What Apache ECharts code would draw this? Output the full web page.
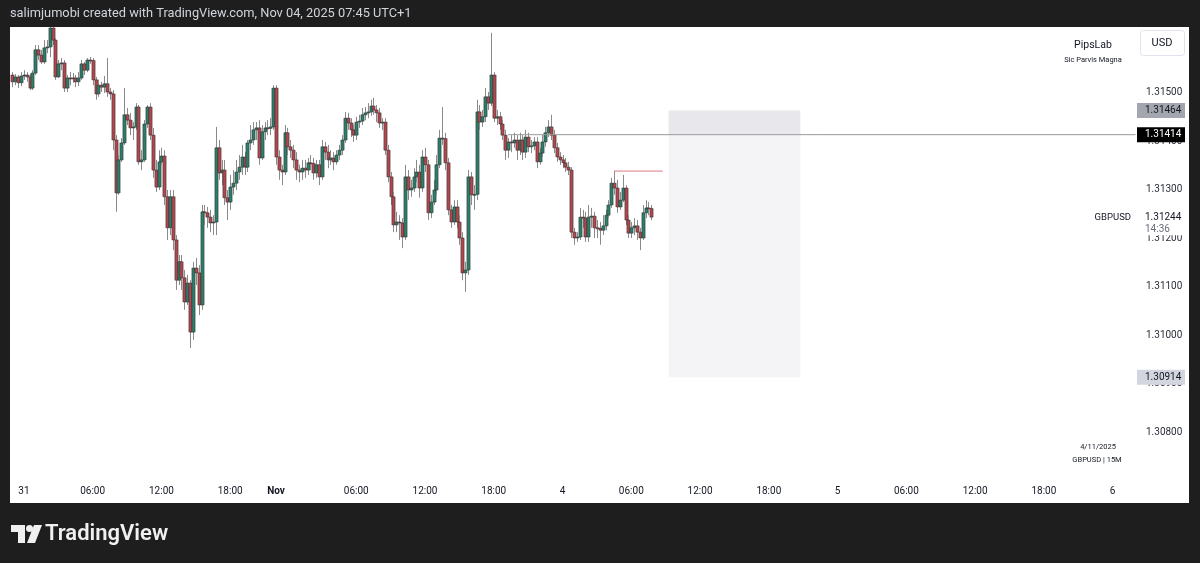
<!DOCTYPE html>
<html>
<head>
<meta charset="utf-8">
<script src="https://cdn.jsdelivr.net/npm/echarts@6/dist/echarts.min.js"></script>
<style>
  html, body { margin: 0; padding: 0; background: #1e1e1e; }
  #chart { width: 1200px; height: 563px; }
</style>
</head>
<body>
<div id="chart"></div>
<script>
// GBPUSD 15m candles, [open, close, low, high], first bar = 30 Oct 23:00 (UTC+1)
const ohlc = [
  [1.31537,1.31523,1.31512,1.31543],[1.31523,1.31533,1.31516,1.31539],[1.31533,1.31521,1.31510,1.31537],[1.31521,1.31535,1.31514,1.31543],
  [1.31535,1.31537,1.31527,1.31547],[1.31537,1.31533,1.31523,1.31543],[1.31533,1.31510,1.31506,1.31539],[1.31510,1.31541,1.31506,1.31547],
  [1.31541,1.31589,1.31537,1.31599],[1.31589,1.31578,1.31568,1.31599],[1.31578,1.31564,1.31560,1.31589],[1.31564,1.31593,1.31560,1.31609],
  [1.31593,1.31595,1.31582,1.31609],[1.31595,1.31634,1.31574,1.31636],[1.31634,1.31609,1.31599,1.31636],[1.31609,1.31533,1.31527,1.31613],
  [1.31533,1.31560,1.31531,1.31568],[1.31560,1.31562,1.31547,1.31572],[1.31562,1.31510,1.31502,1.31568],[1.31510,1.31531,1.31502,1.31537],
  [1.31531,1.31529,1.31516,1.31543],[1.31529,1.31531,1.31521,1.31541],[1.31531,1.31523,1.31512,1.31537],[1.31523,1.31531,1.31514,1.31543],
  [1.31531,1.31560,1.31527,1.31568],[1.31560,1.31547,1.31537,1.31564],[1.31547,1.31568,1.31543,1.31572],[1.31568,1.31567,1.31560,1.31574],
  [1.31567,1.31527,1.31516,1.31572],[1.31527,1.31498,1.31486,1.31533],[1.31498,1.31516,1.31492,1.31527],[1.31516,1.31512,1.31502,1.31523],
  [1.31512,1.31519,1.31500,1.31535],[1.31519,1.31502,1.31492,1.31572],[1.31502,1.31498,1.31486,1.31510],[1.31498,1.31403,1.31382,1.31506],
  [1.31403,1.31294,1.31255,1.31413],[1.31294,1.31362,1.31290,1.31372],[1.31362,1.31397,1.31358,1.31407],[1.31397,1.31455,1.31393,1.31510],
  [1.31455,1.31444,1.31434,1.31469],[1.31444,1.31428,1.31413,1.31459],[1.31428,1.31430,1.31403,1.31440],[1.31430,1.31471,1.31424,1.31479],
  [1.31471,1.31358,1.31352,1.31475],[1.31358,1.31362,1.31341,1.31382],[1.31362,1.31436,1.31358,1.31444],[1.31436,1.31471,1.31428,1.31475],
  [1.31471,1.31413,1.31403,1.31479],[1.31413,1.31341,1.31325,1.31428],[1.31341,1.31306,1.31296,1.31362],[1.31306,1.31358,1.31300,1.31382],
  [1.31358,1.31370,1.31352,1.31387],[1.31370,1.31286,1.31269,1.31382],[1.31286,1.31222,1.31197,1.31300],[1.31222,1.31286,1.31207,1.31300],
  [1.31286,1.31197,1.31176,1.31300],[1.31197,1.31114,1.31094,1.31207],[1.31114,1.31152,1.31104,1.31166],[1.31152,1.31119,1.31094,1.31166],
  [1.31119,1.31069,1.31053,1.31135],[1.31069,1.31108,1.31063,1.31125],[1.31108,1.31007,1.30974,1.31114],[1.31007,1.31139,1.30991,1.31152],
  [1.31139,1.31129,1.31104,1.31160],[1.31129,1.31063,1.31042,1.31145],[1.31063,1.31255,1.31053,1.31269],[1.31255,1.31253,1.31228,1.31269],
  [1.31253,1.31244,1.31222,1.31265],[1.31244,1.31232,1.31213,1.31259],[1.31232,1.31234,1.31207,1.31248],[1.31234,1.31387,1.31207,1.31430],
  [1.31387,1.31335,1.31321,1.31403],[1.31335,1.31341,1.31310,1.31362],[1.31341,1.31284,1.31269,1.31362],[1.31284,1.31275,1.31238,1.31300],
  [1.31275,1.31306,1.31259,1.31331],[1.31306,1.31314,1.31290,1.31341],[1.31314,1.31337,1.31300,1.31362],[1.31337,1.31347,1.31321,1.31372],
  [1.31347,1.31368,1.31331,1.31393],[1.31368,1.31347,1.31331,1.31378],[1.31347,1.31397,1.31337,1.31403],[1.31397,1.31403,1.31382,1.31434],
  [1.31403,1.31424,1.31393,1.31440],[1.31424,1.31428,1.31403,1.31440],[1.31428,1.31366,1.31352,1.31444],[1.31366,1.31420,1.31362,1.31434],
  [1.31420,1.31428,1.31403,1.31440],[1.31428,1.31427,1.31413,1.31444],[1.31427,1.31430,1.31413,1.31448],[1.31430,1.31510,1.31424,1.31516],
  [1.31510,1.31368,1.31352,1.31516],[1.31368,1.31341,1.31321,1.31382],[1.31341,1.31337,1.31310,1.31352],[1.31337,1.31418,1.31331,1.31434],
  [1.31418,1.31389,1.31372,1.31428],[1.31389,1.31382,1.31366,1.31403],[1.31382,1.31362,1.31345,1.31393],[1.31362,1.31341,1.31321,1.31378],
  [1.31341,1.31337,1.31316,1.31352],[1.31337,1.31345,1.31321,1.31362],[1.31345,1.31341,1.31325,1.31362],[1.31341,1.31356,1.31331,1.31366],
  [1.31356,1.31355,1.31341,1.31372],[1.31355,1.31335,1.31321,1.31366],[1.31335,1.31352,1.31325,1.31362],[1.31352,1.31327,1.31310,1.31362],
  [1.31327,1.31389,1.31321,1.31403],[1.31389,1.31378,1.31362,1.31399],[1.31378,1.31362,1.31345,1.31393],[1.31362,1.31366,1.31352,1.31382],
  [1.31366,1.31358,1.31341,1.31378],[1.31358,1.31372,1.31352,1.31382],[1.31372,1.31382,1.31362,1.31393],[1.31382,1.31403,1.31372,1.31413],
  [1.31403,1.31448,1.31397,1.31461],[1.31448,1.31438,1.31424,1.31459],[1.31438,1.31424,1.31409,1.31448],[1.31424,1.31413,1.31399,1.31434],
  [1.31413,1.31440,1.31403,1.31451],[1.31440,1.31442,1.31428,1.31455],[1.31442,1.31455,1.31434,1.31469],[1.31455,1.31459,1.31444,1.31471],
  [1.31459,1.31461,1.31448,1.31479],[1.31461,1.31473,1.31453,1.31486],[1.31473,1.31465,1.31455,1.31490],[1.31465,1.31459,1.31440,1.31475],
  [1.31459,1.31438,1.31428,1.31469],[1.31438,1.31440,1.31424,1.31448],[1.31440,1.31382,1.31372,1.31448],[1.31382,1.31327,1.31316,1.31393],
  [1.31327,1.31286,1.31269,1.31337],[1.31286,1.31228,1.31213,1.31296],[1.31228,1.31234,1.31213,1.31255],[1.31234,1.31232,1.31197,1.31248],
  [1.31232,1.31203,1.31180,1.31242],[1.31203,1.31327,1.31197,1.31352],[1.31327,1.31300,1.31279,1.31341],[1.31300,1.31304,1.31286,1.31321],
  [1.31304,1.31327,1.31296,1.31345],[1.31327,1.31337,1.31316,1.31362],[1.31337,1.31304,1.31284,1.31352],[1.31304,1.31368,1.31296,1.31382],
  [1.31368,1.31352,1.31337,1.31387],[1.31352,1.31253,1.31238,1.31362],[1.31253,1.31275,1.31242,1.31290],[1.31275,1.31300,1.31269,1.31321],
  [1.31300,1.31352,1.31290,1.31372],[1.31352,1.31407,1.31345,1.31424],[1.31407,1.31406,1.31393,1.31471],[1.31406,1.31356,1.31341,1.31418],
  [1.31356,1.31259,1.31248,1.31366],[1.31259,1.31234,1.31222,1.31269],[1.31234,1.31265,1.31228,1.31279],[1.31265,1.31234,1.31222,1.31279],
  [1.31234,1.31201,1.31187,1.31248],[1.31201,1.31129,1.31114,1.31213],[1.31129,1.31135,1.31090,1.31152],[1.31135,1.31327,1.31125,1.31341],
  [1.31327,1.31290,1.31269,1.31337],[1.31290,1.31291,1.31259,1.31310],[1.31291,1.31461,1.31279,1.31486],[1.31461,1.31440,1.31424,1.31475],
  [1.31440,1.31451,1.31430,1.31465],[1.31451,1.31492,1.31440,1.31510],[1.31492,1.31479,1.31465,1.31502],[1.31479,1.31537,1.31473,1.31624],
  [1.31537,1.31448,1.31440,1.31543],[1.31448,1.31451,1.31434,1.31465],[1.31451,1.31436,1.31424,1.31461],[1.31436,1.31413,1.31403,1.31444],
  [1.31413,1.31382,1.31362,1.31424],[1.31382,1.31399,1.31366,1.31407],[1.31399,1.31397,1.31378,1.31413],[1.31397,1.31403,1.31387,1.31418],
  [1.31403,1.31382,1.31362,1.31413],[1.31382,1.31403,1.31372,1.31418],[1.31403,1.31378,1.31362,1.31413],[1.31378,1.31409,1.31366,1.31424],
  [1.31409,1.31389,1.31378,1.31418],[1.31389,1.31391,1.31376,1.31403],[1.31391,1.31399,1.31382,1.31409],[1.31399,1.31358,1.31345,1.31409],
  [1.31358,1.31376,1.31352,1.31387],[1.31376,1.31399,1.31368,1.31413],[1.31399,1.31418,1.31389,1.31430],[1.31418,1.31430,1.31409,1.31444],
  [1.31430,1.31413,1.31403,1.31455],[1.31413,1.31387,1.31376,1.31424],[1.31387,1.31368,1.31358,1.31397],[1.31368,1.31362,1.31352,1.31378],
  [1.31362,1.31356,1.31345,1.31372],[1.31356,1.31347,1.31337,1.31366],[1.31347,1.31341,1.31331,1.31358],[1.31341,1.31213,1.31201,1.31347],
  [1.31213,1.31201,1.31187,1.31222],[1.31201,1.31203,1.31193,1.31213],[1.31203,1.31244,1.31197,1.31263],[1.31244,1.31242,1.31222,1.31259],
  [1.31242,1.31203,1.31193,1.31255],[1.31203,1.31244,1.31193,1.31269],[1.31244,1.31246,1.31222,1.31263],[1.31246,1.31222,1.31201,1.31255],
  [1.31222,1.31221,1.31201,1.31238],[1.31221,1.31217,1.31187,1.31234],[1.31217,1.31226,1.31207,1.31248],[1.31226,1.31248,1.31217,1.31259],
  [1.31248,1.31269,1.31242,1.31279],[1.31269,1.31314,1.31263,1.31325],[1.31314,1.31304,1.31290,1.31339],[1.31304,1.31265,1.31253,1.31321],
  [1.31265,1.31279,1.31259,1.31296],[1.31279,1.31304,1.31275,1.31331],[1.31304,1.31238,1.31228,1.31310],[1.31238,1.31211,1.31201,1.31248],
  [1.31211,1.31222,1.31201,1.31234],[1.31222,1.31226,1.31207,1.31242],[1.31226,1.31213,1.31197,1.31238],[1.31213,1.31201,1.31176,1.31222],
  [1.31201,1.31253,1.31197,1.31269],[1.31253,1.31263,1.31242,1.31279],[1.31263,1.31262,1.31248,1.31275],[1.31262,1.31244,1.31238,1.31269]
];

// time axis labels (category -> text)
const tickLabels = [
  ['2025-10-31 00:00', '31'], ['2025-10-31 06:00', '06:00'], ['2025-10-31 12:00', '12:00'], ['2025-10-31 18:00', '18:00'],
  ['2025-11-02 23:00', 'Nov'], ['2025-11-03 06:00', '06:00'], ['2025-11-03 12:00', '12:00'], ['2025-11-03 18:00', '18:00'],
  ['2025-11-04 00:00', '4'], ['2025-11-04 06:00', '06:00'], ['2025-11-04 12:00', '12:00'], ['2025-11-04 18:00', '18:00'],
  ['2025-11-05 00:00', '5'], ['2025-11-05 06:00', '06:00'], ['2025-11-05 12:00', '12:00'], ['2025-11-05 18:00', '18:00'],
  ['2025-11-06 00:00', '6']
];

// position tool + levels
const entryPrice = 1.31414;
const stopPrice = 1.31464;
const targetPrice = 1.30914;
const lastPrice = 1.31244;
const countdown = '14:36';
const boxFrom = '2025-11-04 09:15';
const boxTo = '2025-11-04 20:45';
const entryLineFrom = '2025-11-03 19:15';
const highLineFrom = '2025-11-04 04:30';
const highLineTo = '2025-11-04 08:45';
const highLinePrice = 1.31339;

// 15 minute slots, two sessions either side of the weekend
const sessions = [['2025-10-30T23:00:00Z', 92], ['2025-11-02T23:00:00Z', 301]];
const pad = n => String(n).padStart(2, '0');
const categories = [];
sessions.forEach(([start, n]) => {
  let t = Date.parse(start);
  for (let k = 0; k < n; k++) {
    const d = new Date(t);
    categories.push(d.getUTCFullYear() + '-' + pad(d.getUTCMonth() + 1) + '-' + pad(d.getUTCDate()) + ' ' + pad(d.getUTCHours()) + ':' + pad(d.getUTCMinutes()));
    t += 15 * 60000;
  }
});
const labelMap = {};
tickLabels.forEach(([k, v]) => { labelMap[k] = v; });

const UP = '#2e7d6a', DOWN = '#b0474f';
const FONT = 'Roboto, "Noto Sans", sans-serif';

function renderCandle(params, api) {
  const i = api.value(0);
  const o = api.coord([i, api.value(1)]);
  const c = api.coord([i, api.value(2)]);
  const l = api.coord([i, api.value(3)]);
  const h = api.coord([i, api.value(4)]);
  const x = Math.round(o[0]) + 0.5;
  const up = api.value(2) >= api.value(1);
  const top = Math.min(o[1], c[1]);
  const bh = Math.max(1, Math.abs(o[1] - c[1]));
  return {
    type: 'group',
    children: [
      { type: 'line', shape: { x1: x, y1: h[1], x2: x, y2: l[1] }, style: { stroke: '#8a8a8a', lineWidth: 1 } },
      { type: 'rect', shape: { x: x - 1.6, y: top, width: 3.2, height: bh }, style: { fill: up ? UP : DOWN, stroke: '#2b2b2b', lineWidth: 0.5 } }
    ]
  };
}

const chart = echarts.init(document.getElementById('chart'));
const lastCat = categories[categories.length - 1];

// a flat level drawn as a two point line series
function levelLine(from, to, price, color, z) {
  return {
    type: 'line',
    data: [[from, price], [to, price]],
    showSymbol: false,
    symbol: 'none',
    silent: true,
    z: z,
    lineStyle: { color: color, width: 1 },
    itemStyle: { color: color }
  };
}

chart.setOption({
  backgroundColor: '#1e1e1e',
  animation: false,
  grid: { left: 11, right: 63, top: 27, bottom: 82 },
  xAxis: {
    type: 'category',
    data: categories,
    boundaryGap: true,
    axisLine: { show: false },
    axisTick: { show: false },
    splitLine: { show: false },
    axisLabel: {
      interval: (idx, val) => labelMap[val] !== undefined,
      formatter: val => val === '2025-11-02 23:00' ? '{b|Nov}' : (labelMap[val] || ''),
      color: '#131722',
      fontSize: 10,
      fontFamily: FONT,
      margin: 5,
      rich: { b: { fontWeight: 'bold', fontSize: 10, color: '#131722', fontFamily: FONT } }
    }
  },
  yAxis: {
    type: 'value',
    position: 'right',
    min: 1.307,
    max: 1.31636,
    interval: 0.001,
    axisLine: { show: false },
    axisTick: { show: false },
    splitLine: { show: false },
    axisLabel: {
      showMinLabel: false,
      showMaxLabel: false,
      margin: 9,
      color: '#2a2e39',
      fontSize: 10,
      fontFamily: FONT,
      formatter: v => (v > 1.3075 && v < 1.3155) ? v.toFixed(5) : ''
    }
  },
  series: [
    {
      type: 'custom',
      renderItem: renderCandle,
      encode: { x: 0, y: [1, 2, 3, 4] },
      data: ohlc.map((r, i) => [i, r[0], r[1], r[2], r[3]]),
      z: 5,
      markArea: {
        silent: true,
        data: [
          [{ xAxis: boxFrom, yAxis: entryPrice, itemStyle: { color: '#e8e8ec' } }, { xAxis: boxTo, yAxis: stopPrice }],
          [{ xAxis: boxFrom, yAxis: targetPrice, itemStyle: { color: '#f4f4f6' } }, { xAxis: boxTo, yAxis: entryPrice }]
        ]
      }
    },
    levelLine(entryLineFrom, lastCat, entryPrice, '#9a9a9a', 6),
    levelLine(highLineFrom, highLineTo, highLinePrice, '#dd7a85', 6)
  ]
});

const yPx = v => chart.convertToPixel({ yAxisIndex: 0 }, v);
const tags = [
  { v: stopPrice, bg: '#a3a6ae', fg: '#131722' },
  { v: entryPrice, bg: '#000000', fg: '#ffffff' },
  { v: targetPrice, bg: '#d3d6de', fg: '#131722' }
];
const graphics = [
  { type: 'rect', z: -10, shape: { x: 10, y: 27, width: 1179, height: 476 }, style: { fill: '#ffffff' } },
  { type: 'text', z: 10, x: 10, y: 14, style: { text: 'salimjumobi created with TradingView.com, Nov 04, 2025 07:45 UTC+1', fill: '#d1d4dc', font: '12.8px ' + FONT, textVerticalAlign: 'middle' } },
  // watermark top right
  { type: 'text', z: 10, x: 1093, y: 45, style: { text: 'PipsLab', fill: '#131722', font: '10.5px ' + FONT, textAlign: 'center', textVerticalAlign: 'middle' } },
  { type: 'text', z: 10, x: 1093, y: 60, style: { text: 'Sic Parvis Magna', fill: '#131722', font: '7.5px ' + FONT, textAlign: 'center', textVerticalAlign: 'middle' } },
  { type: 'rect', z: 10, shape: { x: 1140.5, y: 30.5, width: 44, height: 25, r: 3 }, style: { fill: '#ffffff', stroke: '#e0e3eb', lineWidth: 1 } },
  { type: 'text', z: 11, x: 1162, y: 43, style: { text: 'USD', fill: '#131722', font: '11px ' + FONT, textAlign: 'center', textVerticalAlign: 'middle' } },
  // bottom right stamp
  { type: 'text', z: 10, x: 1098, y: 447, style: { text: '4/11/2025', fill: '#131722', font: '7.5px ' + FONT, textAlign: 'center', textVerticalAlign: 'middle' } },
  { type: 'text', z: 10, x: 1097, y: 460, style: { text: 'GBPUSD | 15M', fill: '#131722', font: '7.5px ' + FONT, textAlign: 'center', textVerticalAlign: 'middle' } },
  // TradingView footer logo
  { type: 'rect', z: 10, shape: { x: 11, y: 525, width: 14, height: 7 }, style: { fill: '#f0f0f0' } },
  { type: 'rect', z: 10, shape: { x: 18, y: 525, width: 7, height: 18 }, style: { fill: '#f0f0f0' } },
  { type: 'circle', z: 10, shape: { cx: 29.5, cy: 528.5, r: 3.5 }, style: { fill: '#f0f0f0' } },
  { type: 'polygon', z: 10, shape: { points: [[34, 525], [42, 525], [35, 543], [27, 543]] }, style: { fill: '#f0f0f0' } },
  { type: 'text', z: 10, x: 45, y: 534, style: { text: 'TradingView', fill: '#f0f0f0', font: '600 22px ' + FONT, textVerticalAlign: 'middle' } }
];
tags.forEach(t => {
  const y = yPx(t.v);
  graphics.push({ type: 'rect', z: 20, shape: { x: 1137, y: y - 7.5, width: 48, height: 15 }, style: { fill: t.bg } });
  graphics.push({ type: 'text', z: 21, x: 1145, y: y, style: { text: t.v.toFixed(5), fill: t.fg, font: '10px ' + FONT, textVerticalAlign: 'middle' } });
});
const ly = yPx(lastPrice);
graphics.push({ type: 'rect', z: 20, shape: { x: 1137, y: ly - 7, width: 48, height: 25 }, style: { fill: '#ffffff' } });
graphics.push({ type: 'text', z: 21, x: 1145, y: ly, style: { text: lastPrice.toFixed(5), fill: '#131722', font: '10px ' + FONT, textVerticalAlign: 'middle' } });
graphics.push({ type: 'text', z: 21, x: 1145, y: ly + 12, style: { text: countdown, fill: '#6a6d78', font: '10px ' + FONT, textVerticalAlign: 'middle' } });
graphics.push({ type: 'text', z: 21, x: 1131, y: ly, style: { text: 'GBPUSD', fill: '#131722', font: '9.5px ' + FONT, textAlign: 'right', textVerticalAlign: 'middle' } });
chart.setOption({ graphic: graphics });
</script>
</body>
</html>
